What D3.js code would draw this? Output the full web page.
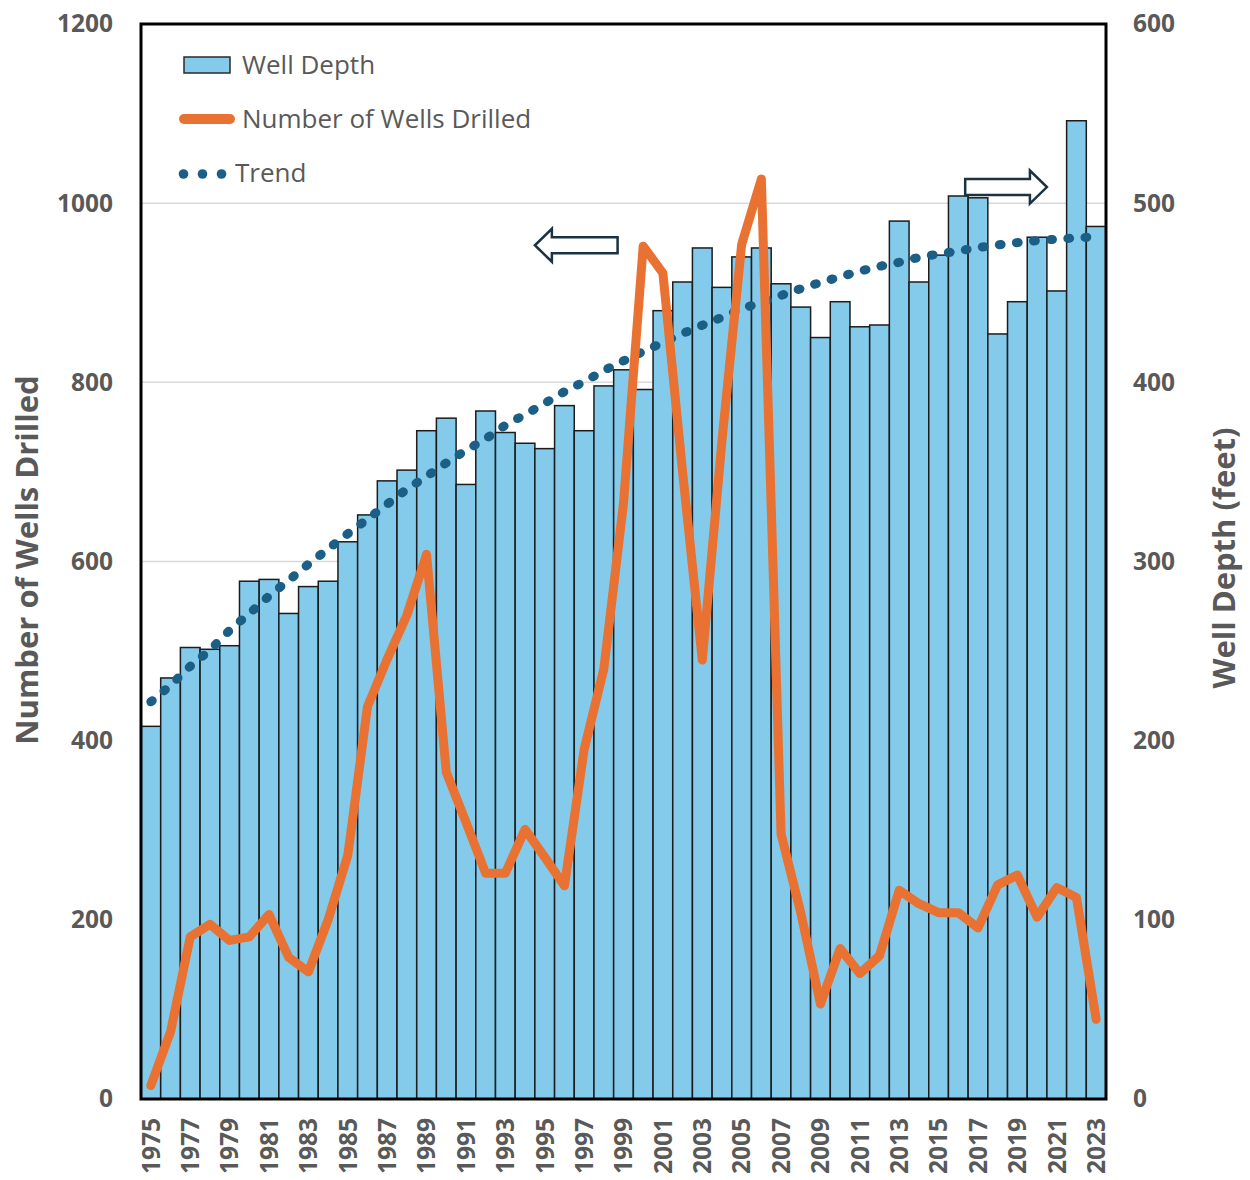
<!DOCTYPE html>
<html>
<head>
<meta charset="utf-8">
<script src="https://cdn.jsdelivr.net/npm/d3@7"></script>
<style>
  html, body { margin: 0; padding: 0; background: #fff; }
  svg { display: block; }
  text { font-family: "Open Sans", "Liberation Sans", sans-serif; }
</style>
</head>
<body>
<script>
// ---------- data ----------
const years = [1975,1976,1977,1978,1979,1980,1981,1982,1983,1984,1985,1986,1987,1988,1989,1990,1991,1992,1993,1994,1995,1996,1997,1998,1999,2000,2001,2002,2003,2004,2005,2006,2007,2008,2009,2010,2011,2012,2013,2014,2015,2016,2017,2018,2019,2020,2021,2022,2023];
const wellDepth = [208,235,252,251,253,289,290,271,286,289,311,326,345,351,373,380,343,384,372,366,363,387,373,398,407,396,440,456,475,453,470,475,455,442,425,445,431,432,490,456,471,504,503,427,445,481,451,546,487];
const wellsDrilled = [15,75,181,195,177,181,206,158,142,200,272,438,491,540,608,365,309,252,252,301,270,238,390,480,665,952,922,700,490,735,954,1027,296,208,106,168,140,160,233,218,208,208,191,239,250,203,236,225,89];
const trend = [221.7,231,241.5,250.7,261.5,271,280.7,289.5,298.5,307,315.5,323.7,332,340.3,347.5,355,362,368.5,376,382,388.3,394.8,400.4,406.5,412,417.2,422.2,427.2,431.9,436.3,441,444.6,448.5,452.3,455.7,458.9,462,464.7,467,469.7,471.6,473.3,475.2,476.7,478,479.1,479.9,480.6,481.3];
const leftTicks = [0,200,400,600,800,1000,1200];
const rightTicks = [0,100,200,300,400,500,600];
const yearLabels = years.filter(y => y % 2 === 1);
const legendLabels = ["Well Depth", "Number of Wells Drilled", "Trend"];
const leftTitle = "Number of Wells Drilled";
const rightTitle = "Well Depth (feet)";

// ---------- layout ----------
const W = 1250, H = 1180;
const L = 141, R = 1106, T = 24, B = 1099;
const gray = "#595959";
const orange = "#E97132";
const trendColor = "#1B5E86";
const barFill = "#83CAEB";

const svg = d3.select("body").append("svg").attr("width", W).attr("height", H);

const x = d3.scaleBand().domain(years).range([L, R]).padding(0);
const xLin = d3.scaleLinear().domain([years[0] - 0.5, years[years.length - 1] + 0.5]).range([L, R]);
const yL = d3.scaleLinear().domain([0, 1200]).range([B, T]);
const yR = d3.scaleLinear().domain([0, 600]).range([B, T]);

// gridlines
svg.append("g").selectAll("line").data(leftTicks.filter(t => t > 0 && t < 1200)).join("line")
  .attr("x1", L).attr("x2", R)
  .attr("y1", d => yL(d)).attr("y2", d => yL(d))
  .attr("stroke", "#d9d9d9").attr("stroke-width", 1.5);

// bars
svg.append("g").selectAll("rect").data(years).join("rect")
  .attr("x", d => x(d))
  .attr("width", x.bandwidth())
  .attr("y", (d, i) => yR(wellDepth[i]))
  .attr("height", (d, i) => B - yR(wellDepth[i]))
  .attr("fill", barFill)
  .attr("stroke", "#1c1c1c")
  .attr("stroke-width", 1.5);

// trend (dotted)
const trendLine = d3.line()
  .x((d, i) => x(years[i]) + x.bandwidth() / 2)
  .y(d => yR(d))
  .curve(d3.curveMonotoneX);
svg.append("path").datum(trend)
  .attr("d", trendLine)
  .attr("fill", "none")
  .attr("stroke", trendColor)
  .attr("stroke-width", 9)
  .attr("stroke-linecap", "round")
  .attr("stroke-dasharray", "1.8 15.4");

// wells drilled line
const wellLine = d3.line()
  .x((d, i) => x(years[i]) + x.bandwidth() / 2)
  .y(d => yL(d));
svg.append("path").datum(wellsDrilled)
  .attr("d", wellLine)
  .attr("fill", "none")
  .attr("stroke", orange)
  .attr("stroke-width", 9)
  .attr("stroke-linejoin", "round")
  .attr("stroke-linecap", "round");

// plot border
svg.append("rect")
  .attr("x", L).attr("y", T).attr("width", R - L).attr("height", B - T)
  .attr("fill", "none").attr("stroke", "#000").attr("stroke-width", 3);

// axes
const axL = d3.axisLeft(yL).tickValues(leftTicks).tickSize(0).tickPadding(28).tickFormat(d3.format("d"));
const gL = svg.append("g").attr("transform", `translate(${L},0)`).call(axL);
const axR = d3.axisRight(yR).tickValues(rightTicks).tickSize(0).tickPadding(27).tickFormat(d3.format("d"));
const gR = svg.append("g").attr("transform", `translate(${R},0)`).call(axR);
const axB = d3.axisBottom(x).tickValues(yearLabels).tickSize(0).tickPadding(0);
const gB = svg.append("g").attr("transform", `translate(0,${B})`).call(axB);
[gL, gR, gB].forEach(g => {
  g.select(".domain").remove();
  g.selectAll("text")
    .attr("fill", gray)
    .style("font-family", '"Open Sans", sans-serif')
    .style("font-weight", "700")
    .style("font-size", "24.5px");
});
gB.selectAll("text")
  .attr("transform", "rotate(-90)")
  .attr("text-anchor", "end")
  .attr("x", -19)
  .attr("y", 0)
  .attr("dy", "0.36em");

// axis titles
svg.append("text")
  .attr("transform", `translate(38,${(378 + 742) / 2}) rotate(-90)`)
  .attr("text-anchor", "middle")
  .attr("fill", gray)
  .style("font-weight", "700")
  .style("font-size", "31px")
  .text(leftTitle);
svg.append("text")
  .attr("transform", `translate(1235,${(428 + 688) / 2}) rotate(-90)`)
  .attr("text-anchor", "middle")
  .attr("fill", gray)
  .style("font-weight", "700")
  .style("font-size", "31px")
  .text(rightTitle);

// legend
const lg = svg.append("g");
lg.append("rect").attr("x", 184).attr("y", 57).attr("width", 46).attr("height", 16)
  .attr("fill", barFill).attr("stroke", "#2a2a2a").attr("stroke-width", 1.5);
lg.append("line").attr("x1", 184).attr("x2", 230).attr("y1", 119).attr("y2", 119)
  .attr("stroke", orange).attr("stroke-width", 10).attr("stroke-linecap", "round");
lg.selectAll("circle").data([0, 1, 2]).join("circle")
  .attr("cx", d => 183.5 + d * 19).attr("cy", 174).attr("r", 4.8).attr("fill", trendColor);
lg.selectAll("text").data(legendLabels).join("text")
  .attr("x", (d, i) => i === 2 ? 235 : 242)
  .attr("y", (d, i) => [65, 119, 173][i])
  .attr("dy", "0.36em")
  .attr("fill", gray)
  .style("font-size", "26px")
  .text(d => d);

// arrows (anchored in data space)
function arrow(x0, x1, yc, dir) {
  const sh = 8, hh = 16.5, hl = 17 * dir;
  const xb = x1 - hl;
  return `M${x0},${yc - sh} L${xb},${yc - sh} L${xb},${yc - hh} L${x1},${yc} L${xb},${yc + hh} L${xb},${yc + sh} L${x0},${yc + sh} Z`;
}
svg.append("path")
  .attr("d", arrow(xLin(1998.7), xLin(1994.5), yL(953), -1))
  .attr("fill", "#fff").attr("stroke", "#1a3242").attr("stroke-width", 2.5).attr("stroke-linejoin", "miter");
svg.append("path")
  .attr("d", arrow(xLin(2016.35), xLin(2020.5), yR(509), 1))
  .attr("fill", "#fff").attr("stroke", "#1a3242").attr("stroke-width", 2.5).attr("stroke-linejoin", "miter");
</script>
</body>
</html>
